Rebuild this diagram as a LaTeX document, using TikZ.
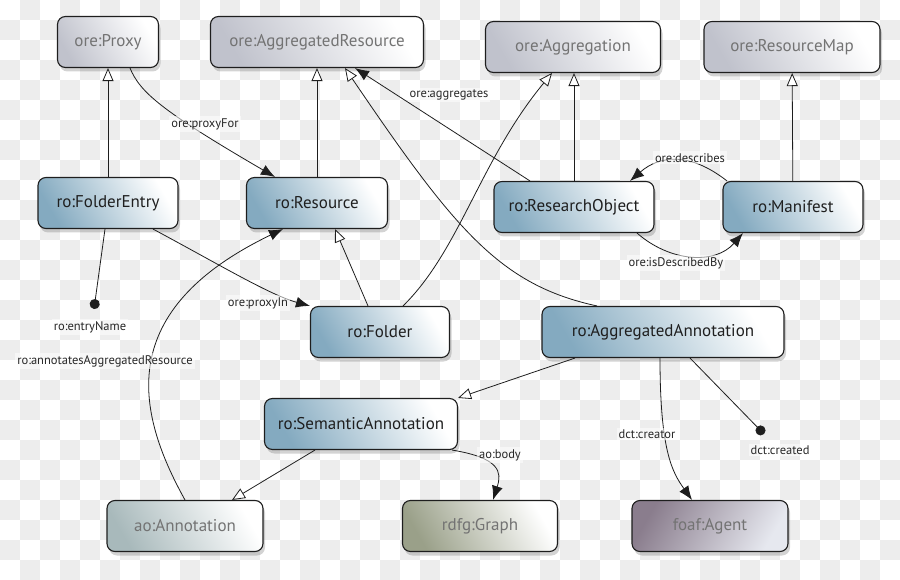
\documentclass[tikz,border=0pt]{standalone}
\usepackage{fontspec}
\setmainfont{PT Sans}
\usetikzlibrary{arrows.meta,shadows}
\definecolor{chk}{HTML}{EDEDED}
\definecolor{edge}{HTML}{1E1E1E}
\definecolor{oreL}{HTML}{C0C2CC}
\definecolor{oreM}{HTML}{E8E9EE}
\definecolor{roL}{HTML}{84AAC0}
\definecolor{roM}{HTML}{B7E0EC}
\definecolor{annL}{HTML}{A8B9BB}
\definecolor{annM}{HTML}{E6ECED}
\definecolor{grL}{HTML}{9AA089}
\definecolor{grM}{HTML}{E8EADF}
\definecolor{agL}{HTML}{8A7D8D}
\definecolor{agM}{HTML}{C7CAD6}
\definecolor{agR}{HTML}{E6E8EF}
\tikzset{
  cls/.style={draw=edge, line width=1.1pt, rounded corners=8pt, minimum height=51pt,
    font=\fontsize{17}{20}\selectfont, text=black!55,
    drop shadow={shadow xshift=2pt, shadow yshift=-4pt, opacity=0.35}},
  orecls/.style={cls, left color=oreL, middle color=oreM, right color=white, shading angle=120},
  rocls/.style={cls, text=black!88, left color=roL, middle color=roM, right color=white, shading angle=120},
  isa/.style={draw=edge, line width=0.8pt, -{Triangle[open, fill=white, length=13pt, width=11pt]}},
  prop/.style={draw=edge, line width=0.8pt, -{Latex[length=14pt, width=11pt]}},
  attr/.style={draw=edge, line width=0.8pt, -{Circle[length=10pt]}},
  lbl/.style={font=\fontsize{12.5}{14}\selectfont, text=black!85, fill=white, fill opacity=0.55, text opacity=1, inner sep=2pt},
}

\begin{document}
\begin{tikzpicture}[x=1pt, y=-1pt]
  \useasboundingbox (0,0) rectangle (900,580);
  % checkered background
  \foreach \x in {0,40,...,880}
    \foreach \y in {0,40,...,560} {
      \fill[chk] (\x+20,\y) rectangle ++(20,20);
      \fill[chk] (\x,\y+20) rectangle ++(20,20);
    }

  % ore classes
  \node[orecls, minimum width=101pt] (proxy) at (108,42) {ore:Proxy};
  \node[orecls, minimum width=213pt] (aggres) at (317,42) {ore:AggregatedResource};
  \node[orecls, minimum width=175pt] (aggregation) at (573,47) {ore:Aggregation};
  \node[orecls, minimum width=176pt] (resmap) at (792,47) {ore:ResourceMap};

  % ro classes
  \node[rocls, minimum width=140pt] (fentry) at (108,203) {ro:FolderEntry};
  \node[rocls, minimum width=141pt] (resource) at (317,203) {ro:Resource};
  \node[rocls, minimum width=160pt] (ro) at (574,207) {ro:ResearchObject};
  \node[rocls, minimum width=140pt] (manifest) at (793,207) {ro:Manifest};
  \node[rocls, minimum width=139pt] (folder) at (380,332) {ro:Folder};
  \node[rocls, minimum width=242pt] (aggannot) at (663,332) {ro:AggregatedAnnotation};
  \node[rocls, minimum width=193pt] (semann) at (361,424) {ro:SemanticAnnotation};

  % other vocabularies
  \node[cls, minimum width=156pt, left color=annL, middle color=annM, right color=white, shading angle=120] (annot) at (185,526) {ao:Annotation};
  \node[cls, minimum width=155pt, left color=grL, middle color=grM, right color=white, shading angle=120] (graph) at (480,526) {rdfg:Graph};
  \node[cls, minimum width=156pt, left color=agL, middle color=agM, right color=agR, shading angle=60] (agent) at (710,526) {foaf:Agent};

  % subclass links
  \draw[isa] (fentry) -- (proxy);
  \draw[isa] (resource) -- (aggres);
  \draw[isa] (ro.north) -- (ro.north |- aggregation.south);
  \draw[isa] (manifest) -- (resmap);
  \draw[isa] ([xshift=-12pt]folder.north) -- ([xshift=18pt]resource.south);
  \draw[isa] ([xshift=23pt]folder.north) .. controls (460,250) and (480,160) .. ([xshift=-21pt]aggregation.south);
  \draw[isa] ([xshift=-66pt]aggannot.north) .. controls (500,285) and (455,230) .. ([xshift=28pt]aggres.south);
  \draw[isa] ([xshift=-88pt]aggannot.south) -- (semann.north east);
  \draw[isa] ([xshift=-46pt]semann.south) -- ([xshift=47pt]annot.north);

  % properties
  \draw[prop] ([xshift=22pt]proxy.south) .. controls (140,92) and (160,110) .. ([xshift=-42pt]resource.north);
  \draw[prop] ([xshift=-44pt]ro.north) -- ([xshift=38pt]aggres.south);
  \draw[prop] ([xshift=-66pt]manifest.north) .. controls (690,152) and (660,155) .. ([xshift=56pt]ro.north);
  \draw[prop] ([xshift=63pt]ro.south) .. controls (670,262) and (715,265) .. ([xshift=-50pt]manifest.south);
  \draw[prop] ([xshift=45pt]fentry.south) .. controls (220,265) and (270,295) .. (folder.north west);
  \draw[prop] (annot.north) .. controls (135,410) and (115,310) .. ([xshift=-34pt]resource.south);
  \draw[prop] ([xshift=-6pt]semann.south east) .. controls (500,458) and (502,472) .. ([xshift=13pt]graph.north);
  \draw[prop] ([xshift=-3pt]aggannot.south) .. controls +(0,92) and +(-20,-28) .. ([xshift=-18pt]agent.north);

  % attributes
  \coordinate (entryname) at (94,309);
  \coordinate (created) at (764,434);
  \draw[attr] ([xshift=-3pt]fentry.south) -- (entryname);
  \draw[attr] ([xshift=27pt]aggannot.south) -- (created);

  % edge labels
  \node[lbl] (lproxyfor) at (205,124) {ore:proxyFor};
  \node[lbl] (laggregates) at (449,95) {ore:aggregates};
  \node[lbl] (ldescribes) at (690,158) {ore:describes};
  \node[lbl] (ldescribedby) at (676,263) {ore:isDescribedBy};
  \node[lbl] (lproxyin) at (258,303) {ore:proxyIn};
  \node[lbl] (lentryname) at (90,327) {ro:entryName};
  \node[lbl] (lannotates) at (105,361) {ro:annotatesAggregatedResource};
  \node[lbl] (lbody) at (500,455) {ao:body};
  \node[lbl] (lcreator) at (647,434) {dct:creator};
  \node[lbl] (lcreated) at (780,450) {dct:created};
\end{tikzpicture}
\end{document}
